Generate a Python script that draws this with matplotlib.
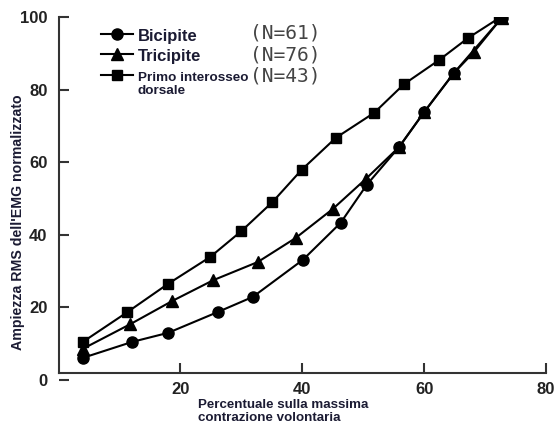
import matplotlib
matplotlib.use("Agg")
import matplotlib.pyplot as plt

# data (x: % MVC, y: normalised RMS EMG amplitude)
bic_x = [4.0, 12.1, 18.0, 26.1, 31.9, 40.1, 46.3, 50.6, 55.9, 60.0, 64.9, 72.7]
bic_y = [6.1, 10.5, 13.0, 18.7, 22.9, 33.1, 43.3, 53.8, 64.2, 73.8, 84.6, 99.7]

tri_x = [4.0, 11.8, 18.7, 25.4, 32.7, 38.9, 45.0, 50.5, 55.9, 60.0, 64.9, 68.2, 72.7]
tri_y = [8.6, 15.4, 21.8, 27.5, 32.5, 39.1, 47.1, 55.5, 64.2, 73.8, 84.6, 90.4, 99.7]

fdi_x = [4.0, 11.3, 17.9, 24.9, 30.0, 35.1, 39.9, 45.5, 51.8, 56.7, 62.5, 67.2, 72.3]
fdi_y = [10.5, 18.7, 26.4, 33.9, 41.0, 49.0, 57.9, 66.7, 73.6, 81.5, 88.2, 94.2, 99.7]

labels = ["Bicipite", "Tricipite", "Primo interosseo"]
counts = ["(N=61)", "(N=76)", "(N=43)"]

x_ticks = [20, 40, 60, 80]
y_ticks = [0, 20, 40, 60, 80, 100]

TXT = "#1b1b33"
AX = "#333333"

plt.rcParams["font.family"] = ["Liberation Sans", "DejaVu Sans"]

fig = plt.figure(figsize=(5.54, 4.25), dpi=100)
ax = fig.add_axes([58.5 / 554, 1 - 380 / 425, 487.5 / 554, 363 / 425])

kw = dict(color="black", lw=1.5, ms=8)
h1, = ax.plot(bic_x, bic_y, marker="o", **kw)
h2, = ax.plot(tri_x, tri_y, marker="^", **kw)
h3, = ax.plot(fdi_x, fdi_y, marker="s", ms=7.5, color="black", lw=1.5)

ax.set_xlim(0, 80)
ax.set_ylim(0, 100)
ax.set_xticks(x_ticks)
ax.set_yticks(y_ticks)
for s in ["top", "right"]:
    ax.spines[s].set_visible(False)
ax.spines["bottom"].set_position(("data", 1.8))
ax.spines["left"].set_bounds(1.8, 100)
for s in ["bottom", "left"]:
    ax.spines[s].set_color(AX)
    ax.spines[s].set_linewidth(1.5)
ax.tick_params(axis="y", direction="in", length=7, width=1.5, color=AX,
               labelsize=12, pad=8)
ax.tick_params(axis="x", direction="in", length=7, width=1.5, color=AX,
               labelsize=12, pad=6)
for t in ax.get_xticklabels() + ax.get_yticklabels():
    t.set_fontweight("bold")
    t.set_color("#222222")

ax.set_ylabel("Ampiezza RMS dell'EMG normalizzato", fontsize=10.2,
              fontweight="bold", color=TXT)
ax.yaxis.set_label_coords(-0.068, 0.435)
fig.text(198 / 554, 1 - 399 / 425,
         "Percentuale sulla massima\ncontrazione volontaria",
         fontsize=9.6, fontweight="bold", color=TXT, ha="left", va="top",
         linespacing=1.1)

leg = ax.legend([h1, h2, h3], labels, loc="upper left",
                bbox_to_anchor=(0.088, 0.972), frameon=False, fontsize=12,
                handlelength=1.9, handleheight=1.1, handletextpad=0.3,
                labelspacing=0.22, borderpad=0, borderaxespad=0)
for i, t in enumerate(leg.get_texts()):
    t.set_fontweight("bold")
    t.set_color(TXT)
    if i == 2:
        t.set_fontsize(9.7)
ax.text(0.163, 0.797, "dorsale", transform=ax.transAxes, fontsize=9.7,
        fontweight="bold", color=TXT, ha="left", va="center")

for i, c in enumerate(counts):
    ax.text(0.392, 0.956 - i * 0.0595, c, transform=ax.transAxes,
            fontsize=14, color="#444444", ha="left", va="center",
            family=["DejaVu Sans Mono"])

fig.savefig("out.png", dpi=100)
